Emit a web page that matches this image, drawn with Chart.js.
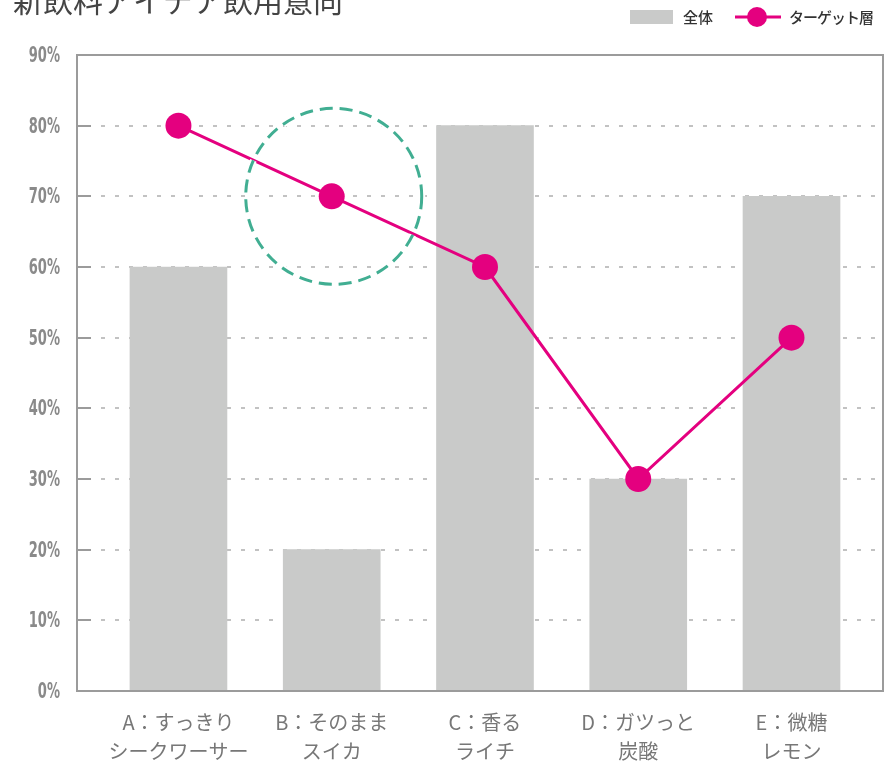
<!DOCTYPE html>
<html lang="ja">
<head>
<meta charset="utf-8">
<title>新飲料アイデア飲用意向</title>
<script src="https://cdn.jsdelivr.net/npm/chart.js@4"></script>
<style>
  html, body { margin: 0; padding: 0; background: #fff; }
  #wrap { position: relative; width: 887px; height: 762px; }
</style>
</head>
<body>
<div id="wrap"><canvas id="chart" width="887" height="762"></canvas></div>
<script>
const title = '新飲料アイデア飲用意向'
const categories = [
    ['A：すっきり', 'シークワーサー'],
    ['B：そのまま', 'スイカ'],
    ['C：香る', 'ライチ'],
    ['D：ガツっと', '炭酸'],
    ['E：微糖', 'レモン'],
]
const overall = [60, 20, 80, 30, 70]    // 全体
const target = [80, 70, 60, 30, 50]     // ターゲット層
const yTicks = [0, 10, 20, 30, 40, 50, 60, 70, 80, 90]
const highlightIndex = 1                // dashed circle around B

const barColor = '#c9cac9'
const lineColor = '#e4007f'
const frameColor = '#9b9b9b'
const jpFont = '"Noto Sans CJK JP", "Noto Sans", sans-serif'
const numFont = '"DejaVu Sans Condensed", "DejaVu Sans", sans-serif'

// frame, solid tick stubs, dotted grid lines, condensed y labels
const gridPlugin = {
    id: 'gridFrame',
    beforeDatasetsDraw(chart) {
        const { ctx, chartArea: a, scales: { y } } = chart
        ctx.save()
        yTicks.forEach(v => {
            const py = Math.round(y.getPixelForValue(v))
            // y tick label, squeezed horizontally
            ctx.save()
            ctx.translate(a.left - 17, py)
            ctx.scale(0.66, 1)
            ctx.fillStyle = '#8a8a8a'
            ctx.font = 'bold 22px ' + numFont
            ctx.textAlign = 'right'
            ctx.textBaseline = 'middle'
            ctx.fillText(v + '%', 0, 1)
            ctx.restore()
            if (v === yTicks[0] || v === yTicks[yTicks.length - 1]) return
            ctx.strokeStyle = '#c2c2c2'
            ctx.lineWidth = 2
            ctx.setLineDash([4, 10])
            ctx.beginPath()
            ctx.moveTo(a.left + 24, py)
            ctx.lineTo(a.right, py)
            ctx.stroke()
            ctx.setLineDash([])
            ctx.strokeStyle = frameColor
            ctx.beginPath()
            ctx.moveTo(a.left, py)
            ctx.lineTo(a.left + 14, py)
            ctx.stroke()
        })
        ctx.restore()
    },
    afterDatasetsDraw(chart) {
        const { ctx, chartArea: a } = chart
        // dashed highlight circle
        const pt = chart.getDatasetMeta(0).data[highlightIndex]
        if (pt) {
            ctx.save()
            ctx.lineWidth = 7
            ctx.strokeStyle = '#fff'
            ctx.setLineDash([13, 7])
            ctx.beginPath()
            ctx.arc(pt.x + 2, pt.y, 88, 0, Math.PI * 2)
            ctx.stroke()
            ctx.lineWidth = 3
            ctx.strokeStyle = '#41ae92'
            ctx.stroke()
            ctx.restore()
        }
        ctx.save()
        ctx.strokeStyle = frameColor
        ctx.lineWidth = 2
        ctx.strokeRect(a.left, a.top, a.right - a.left, a.bottom - a.top)
        ctx.restore()
    },
    afterDraw(chart) {
        const { ctx } = chart
        ctx.save()
        // title (cut off at the top like the original)
        ctx.fillStyle = '#444'
        ctx.font = '30px ' + jpFont
        ctx.textBaseline = 'alphabetic'
        ctx.fillText(title, 13, 12)
        // legend
        const ds = chart.data.datasets
        ctx.font = '500 15px ' + jpFont
        ctx.textBaseline = 'middle'
        ctx.fillStyle = barColor
        ctx.fillRect(630, 10, 43, 14)
        ctx.fillStyle = '#333'
        ctx.fillText(ds[1].label, 683, 17)
        ctx.strokeStyle = lineColor
        ctx.lineWidth = 3
        ctx.beginPath()
        ctx.moveTo(735, 17)
        ctx.lineTo(781, 17)
        ctx.stroke()
        ctx.fillStyle = lineColor
        ctx.beginPath()
        ctx.arc(757, 17, 10, 0, Math.PI * 2)
        ctx.fill()
        ctx.fillStyle = '#333'
        ctx.letterSpacing = '-1px'
        ctx.fillText(ds[0].label, 789, 17)
        ctx.restore()
    }
}

new Chart(document.getElementById('chart'), {
    type: 'bar',
    data: {
        datasets: [
            {
                type: 'line',
                label: 'ターゲット層',
                data: target.map((v, i) => ({ x: i, y: v })),
                borderColor: lineColor,
                backgroundColor: lineColor,
                borderWidth: 3,
                pointRadius: 13,
                pointBorderWidth: 0,
                pointBackgroundColor: lineColor,
                order: 1,
            },
            {
                type: 'bar',
                label: '全体',
                data: overall.map((v, i) => ({ x: i, y: v })),
                backgroundColor: barColor,
                barThickness: 97,
                order: 2,
            },
        ],
    },
    options: {
        responsive: false,
        animation: false,
        layout: { autoPadding: false, padding: { left: 0, top: 55, right: 4, bottom: 0 } },
        plugins: {
            legend: { display: false },
            tooltip: { enabled: false },
        },
        scales: {
            x: {
                type: 'linear',
                offset: false,
                min: -0.662,
                max: 4.597,
                afterBuildTicks: s => { s.ticks = categories.map((c, i) => ({ value: i })) },
                afterFit: s => { s.height = 71; s.paddingLeft = 0; s.paddingRight = 0 },
                grid: { display: false, drawTicks: false },
                border: { display: false },
                ticks: {
                    autoSkip: false,
                    maxRotation: 0,
                    padding: 17,
                    color: '#777',
                    font: { family: jpFont, size: 20, lineHeight: 1.45 },
                    callback: v => categories[v],
                },
            },
            y: {
                min: 0,
                max: 90,
                afterBuildTicks: s => { s.ticks = yTicks.map(v => ({ value: v })) },
                afterFit: s => { s.width = 77; s.paddingTop = 0; s.paddingBottom = 0 },
                grid: { display: false, drawTicks: false },
                border: { display: false },
                ticks: { display: false },
            },
        },
    },
    plugins: [gridPlugin],
})
</script>
</body>
</html>
